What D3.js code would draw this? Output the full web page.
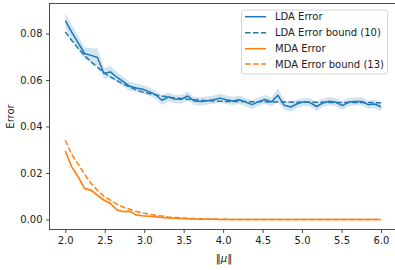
<!DOCTYPE html>
<html><head><meta charset="utf-8">
<script src="https://cdn.jsdelivr.net/npm/d3@7"></script>
<style>
body{margin:0;background:#fff;}
text{font-family:"DejaVu Sans",sans-serif;}
</style></head>
<body><svg id="c" width="395" height="270"></svg>
<script>
const N = 50;
const mu = d3.range(N).map(i => 2 + i * 4 / (N - 1));
const ldaError = [0.0855,0.0806,0.0760,0.0714,0.0706,0.0697,0.0628,0.0635,0.0612,0.0593,
  0.0573,0.0566,0.0560,0.0550,0.0537,0.0513,0.0527,0.0518,0.0517,0.0531,
  0.0510,0.0508,0.0511,0.0515,0.0522,0.0515,0.0510,0.0515,0.0505,0.0494,
  0.0507,0.0516,0.0506,0.0534,0.0491,0.0484,0.0498,0.0506,0.0503,0.0486,
  0.0502,0.0509,0.0504,0.0490,0.0505,0.0508,0.0508,0.0494,0.0497,0.0485];
const ldaCI = [0.0034,0.0032,0.0030,0.0026,0.0032,0.0038,0.0024,0.0026,0.0022,0.0020,
  0.0019,0.0019,0.0018,0.0018,0.0018,0.0021,0.0019,0.0018,0.0018,0.0020,
  0.0018,0.0018,0.0018,0.0018,0.0019,0.0018,0.0018,0.0018,0.0018,0.0019,
  0.0018,0.0019,0.0018,0.0030,0.0020,0.0021,0.0018,0.0018,0.0018,0.0019,
  0.0018,0.0018,0.0018,0.0019,0.0018,0.0018,0.0018,0.0018,0.0018,0.0019];
const ldaBound = [0.0807,0.0770,0.0736,0.0705,0.0678,0.0655,0.0632,0.0613,0.0597,0.0583,
  0.0570,0.0558,0.0548,0.0542,0.0536,0.0531,0.0527,0.0523,0.0520,0.0517,
  0.0515,0.0513,0.0511,0.0510,0.0509,0.0508,0.0508,0.0507,0.0507,0.0506,
  0.0506,0.0506,0.0505,0.0505,0.0505,0.0505,0.0504,0.0504,0.0504,0.0504,
  0.0504,0.0503,0.0503,0.0503,0.0503,0.0503,0.0503,0.0503,0.0502,0.0502];
const mdaError = [0.0294,0.0226,0.0183,0.0133,0.0126,0.0104,0.0083,0.0069,0.0042,0.0034,
  0.0036,0.0019,0.0016,0.0014,0.0012,0.0009,0.0006,0.0005,0.0004,0.0003,
  0.0002,0.0001,0.0001,0.0001,0,0,0,0,0,0,0,0,0,0,0,0,0,0,0,0,0,0,0,0,0,0,0,0,0,0];
const mdaCI = [0.0009,0.0009,0.0008,0.0008,0.0008,0.0007,0.0007,0.0006,0.0006,0.0005,
  0.0005,0.0004,0.0004,0.0003,0.0003,0.0002,0.0002,0.0002,0.0001,0.0001,
  0.0001,0.0001,0.0001,0.0001,0,0,0,0,0,0,0,0,0,0,0,0,0,0,0,0,0,0,0,0,0,0,0,0,0,0];
const mdaBound = [0.0341,0.0280,0.0238,0.0195,0.0155,0.0125,0.0100,0.0083,0.0066,0.0053,
  0.0044,0.0034,0.0028,0.0023,0.0018,0.0015,0.0011,0.0009,0.0007,0.0005,
  0.0004,0.0003,0.0002,0.0002,0.0001,0.0001,0,0,0,0,0,0,0,0,0,0,0,0,0,0,0,0,0,0,0,0,0,0,0,0];
const xTicks = [2.0,2.5,3.0,3.5,4.0,4.5,5.0,5.5,6.0];
const yTicks = [0.00,0.02,0.04,0.06,0.08];
const legendLabels = ["LDA Error","LDA Error bound (10)","MDA Error","MDA Error bound (13)"];
const colors = ["#1f77b4","#ff7f0e"];

const svg = d3.select("#c");
const L = 49.5, T = 3.5, B = 229.5;
const x = d3.scaleLinear().domain([1.8, 6.2]).range([L, L + 4.4 * 78.93]);
const y = d3.scaleLinear().domain([-0.0043, 0.0929]).range([B, T]);

svg.append("clipPath").attr("id","cl").append("rect")
  .attr("x", L).attr("y", T).attr("width", 400).attr("height", B - T);
const g = svg.append("g").attr("clip-path","url(#cl)");

function band(vals, ci, col){
  const area = d3.area().x((d,i)=>x(mu[i])).y0((d,i)=>y(vals[i]-ci[i])).y1((d,i)=>y(vals[i]+ci[i]));
  g.append("path").attr("d", area(vals)).attr("fill", col).attr("fill-opacity", 0.2).attr("stroke","none");
}
function line(vals, col, dashed){
  const ln = d3.line().x((d,i)=>x(mu[i])).y(d=>y(d));
  g.append("path").attr("d", ln(vals)).attr("fill","none").attr("stroke", col)
    .attr("stroke-width",1.5).attr("stroke-linejoin","round")
    .attr("stroke-dasharray", dashed ? "5.55,2.4" : null);
}
band(ldaError, ldaCI, colors[0]);
line(ldaError, colors[0], false);
line(ldaBound, colors[0], true);
band(mdaError, mdaCI, colors[1]);
line(mdaError, colors[1], false);
line(mdaBound, colors[1], true);

const xAxis = d3.axisBottom(x).tickValues(xTicks).tickFormat(d3.format(".1f")).tickSizeOuter(0).tickSize(3.5).tickPadding(3.5);
const yAxis = d3.axisLeft(y).tickValues(yTicks).tickFormat(d3.format(".2f")).tickSizeOuter(0).tickSize(3.5).tickPadding(3.5);
const gx = svg.append("g").attr("transform", `translate(0,${B})`).call(xAxis);
const gy = svg.append("g").attr("transform", `translate(${L},0)`).call(yAxis);
[gx, gy].forEach(a => {
  a.select(".domain").remove();
  a.selectAll("line").attr("stroke","#222").attr("stroke-width",0.8);
  a.selectAll("text").attr("font-size","10px").attr("fill","#222").attr("font-family","DejaVu Sans");
});
const R = x(6.2);
svg.append("rect").attr("x", L).attr("y", T).attr("width", R - L).attr("height", B - T)
  .attr("fill","none").attr("stroke","#222").attr("stroke-width",0.8);

svg.append("text").attr("transform", `translate(10.5,${(T+B)/2}) rotate(-90)`)
  .attr("text-anchor","middle").attr("dominant-baseline","central").attr("font-size","10px").attr("fill","#222").text("Error");
const xl = svg.append("text").attr("x", 224).attr("y", 262).attr("text-anchor","middle").attr("font-size","10px").attr("fill","#222");
xl.append("tspan").text("‖");
xl.append("tspan").attr("font-style","italic").text("μ");
xl.append("tspan").text("‖");

const lg = svg.append("g");
lg.append("rect").attr("x", 241.5).attr("y", 10).attr("width", 146).attr("height", 64).attr("rx", 2.5)
  .attr("fill","#fff").attr("fill-opacity",0.8).attr("stroke","#cccccc").attr("stroke-width",0.8);
const ly = [16.7, 32.7, 48.7, 64];
legendLabels.forEach((lab, i) => {
  const col = colors[i < 2 ? 0 : 1];
  lg.append("line").attr("x1", 245).attr("x2", 266).attr("y1", ly[i]).attr("y2", ly[i])
    .attr("stroke", col).attr("stroke-width", 1.5).attr("stroke-dasharray", i % 2 ? "5.55,2.4" : null);
  lg.append("text").attr("x", 275).attr("y", ly[i]).attr("dominant-baseline","central")
    .attr("font-size","10px").attr("fill","#222").text(lab);
});
</script></body></html>
